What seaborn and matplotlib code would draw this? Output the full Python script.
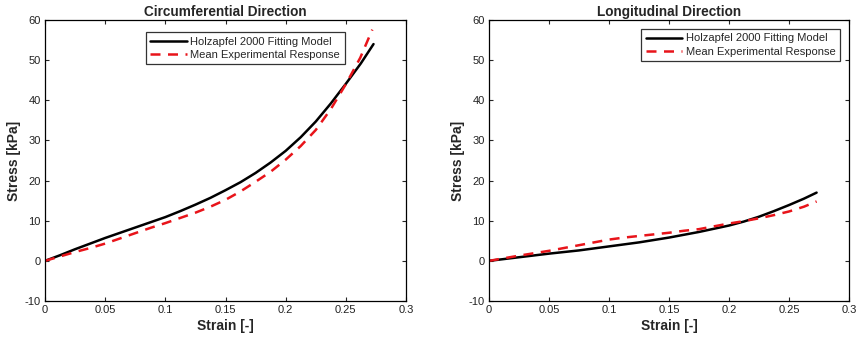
import numpy as np
import pandas as pd
import matplotlib
matplotlib.use("Agg")
import matplotlib.pyplot as plt
import seaborn as sns

# strain values
strain = [0, 0.0125, 0.025, 0.0375, 0.05, 0.0625, 0.075, 0.0875, 0.1, 0.1125,
          0.125, 0.1375, 0.15, 0.1625, 0.175, 0.1875, 0.2, 0.2125, 0.225,
          0.2375, 0.25, 0.2625, 0.273]
strain_circ_exp = [0, 0.0125, 0.025, 0.0375, 0.05, 0.0625, 0.075, 0.0875, 0.1,
                   0.1125, 0.125, 0.1375, 0.15, 0.1625, 0.175, 0.1875, 0.2,
                   0.2125, 0.225, 0.2375, 0.25, 0.262, 0.272]

# Circumferential direction
circ_model = [0, 1.4, 2.9, 4.3, 5.7, 7.0, 8.3, 9.6, 10.9, 12.4, 14.0, 15.7,
              17.6, 19.6, 21.9, 24.5, 27.4, 30.8, 34.7, 39.2, 44.1, 49.2, 54.0]
circ_exp = [0, 1.1, 2.2, 3.2, 4.3, 5.6, 6.9, 8.2, 9.4, 10.7, 12.0, 13.5,
            15.2, 17.3, 19.7, 22.2, 25.2, 28.6, 32.6, 37.8, 44.0, 50.6, 57.6]

# Longitudinal direction
long_model = [0, 0.45, 0.9, 1.35, 1.8, 2.2, 2.6, 3.1, 3.6, 4.1, 4.6, 5.2, 5.8,
              6.5, 7.2, 8.0, 8.8, 9.8, 11.0, 12.4, 13.9, 15.5, 17.0]
long_exp = [0, 0.65, 1.3, 1.9, 2.5, 3.2, 3.9, 4.6, 5.3, 5.8, 6.2, 6.6, 7.0,
            7.5, 7.9, 8.6, 9.3, 9.9, 10.6, 11.4, 12.3, 13.5, 14.8]

titles = ["Circumferential Direction", "Longitudinal Direction"]
model_label = "Holzapfel 2000 Fitting Model"
exp_label = "Mean Experimental Response"

sns.set_style("ticks")
plt.rcParams["font.family"] = ["Liberation Sans", "DejaVu Sans"]
plt.rcParams["axes.unicode_minus"] = False

fig = plt.figure(figsize=(8.58, 3.45), dpi=100)
ax1 = fig.add_axes([45 / 858, 1 - 301 / 345, 361 / 858, 281 / 345])
ax2 = fig.add_axes([489 / 858, 1 - 301 / 345, 360 / 858, 281 / 345])

panels = [
    (ax1, strain, circ_model, strain_circ_exp, circ_exp, (0.83, 0.957)),
    (ax2, strain, long_model, strain, long_exp, (0.975, 0.968)),
]

for i, (ax, xm, ym, xe, ye, anchor) in enumerate(panels):
    sns.lineplot(x=xm, y=ym, ax=ax, color="black", lw=1.8, label=model_label)
    sns.lineplot(x=xe, y=ye, ax=ax, color="#e8141a", lw=1.8, dashes=(4, 3),
                 label=exp_label)
    ax.set_xlim(0, 0.3)
    ax.set_ylim(-10, 60)
    ax.set_xticks([0, 0.05, 0.1, 0.15, 0.2, 0.25, 0.3])
    ax.set_xticklabels(["0", "0.05", "0.1", "0.15", "0.2", "0.25", "0.3"])
    ax.set_yticks(range(-10, 61, 10))
    ax.tick_params(direction="in", top=True, right=True, labelsize=8,
                   length=3, width=0.8, pad=3, labelcolor="#222222")
    for s in ax.spines.values():
        s.set_linewidth(0.9)
        s.set_color("black")
    ax.set_title(titles[i], fontsize=9.8, fontweight="bold", pad=3)
    ax.set_xlabel("Strain [-]", fontsize=10, fontweight="bold", labelpad=3)
    ax.set_ylabel("Stress [kPa]", fontsize=10, fontweight="bold", labelpad=3)
    leg = ax.legend(loc="upper right", bbox_to_anchor=anchor, fontsize=8,
                    frameon=True, fancybox=False, handlelength=3.3,
                    borderpad=0.4, labelspacing=0.3, handletextpad=0.3,
                    borderaxespad=0)
    leg.get_frame().set_edgecolor("black")
    leg.get_frame().set_linewidth(0.9)

fig.savefig("out.png", dpi=100)
